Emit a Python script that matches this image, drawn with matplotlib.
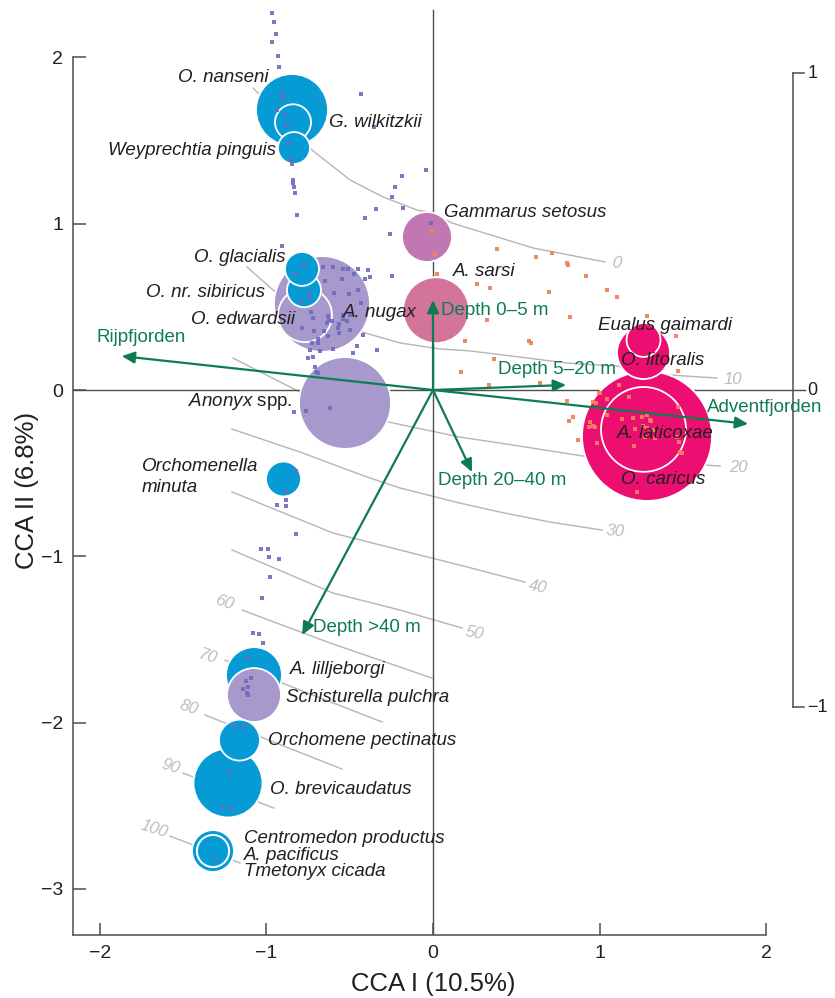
import numpy as np
import matplotlib
matplotlib.use("Agg")
import matplotlib.pyplot as plt
from matplotlib.patches import Circle

plt.rcParams['font.family'] = ['Liberation Sans', 'DejaVu Sans']
plt.rcParams['mathtext.fontset'] = 'custom'
plt.rcParams['mathtext.rm'] = 'Liberation Sans'
plt.rcParams['mathtext.it'] = 'Liberation Sans:italic'

# species scores on CCA I / CCA II, bubble radius (abundance) and cluster
species_names = ["O. nanseni", "G. wilkitzkii", "Weyprechtia pinguis", "Gammarus setosus",
                 "A. sarsi", "A. nugax", "O. edwardsii", "O. nr. sibiricus", "O. glacialis",
                 r"$\mathit{Anonyx}$ spp.", "Orchomenella\nminuta", "A. lilljeborgi",
                 "Schisturella pulchra", "O. brevicaudatus", "Orchomene pectinatus",
                 "Centromedon productus", "A. pacificus", "Tmetonyx cicada",
                 "A. laticoxae", "O. caricus", "O. litoralis", "Eualus gaimardi"]
species_x = [-0.846, -0.840, -0.834, -0.036, 0.018, -0.666, -0.768, -0.774, -0.786,
             -0.528, -0.897, -1.074, -1.074, -1.230, -1.161, -1.320, -1.320, -1.320,
             1.284, 1.263, 1.263, 1.263]
species_y = [1.684, 1.610, 1.455, 0.920, 0.480, 0.517, 0.450, 0.600, 0.728,
             -0.078, -0.535, -1.714, -1.834, -2.363, -2.105, -2.772, -2.772, -2.772,
             -0.277, -0.237, 0.225, 0.301]
species_r = [0.216, 0.108, 0.096, 0.150, 0.198, 0.288, 0.162, 0.102, 0.102,
             0.276, 0.105, 0.168, 0.162, 0.207, 0.123, 0.126, 0.096, 0.096,
             0.390, 0.255, 0.159, 0.102]
species_group = [0, 0, 0, 2, 3, 1, 1, 0, 0, 1, 0, 0, 1, 0, 0, 0, 0, 0, 4, 4, 4, 4]

# sample scores, Rijpfjorden (blue) and Adventfjorden (orange)
rijp_x = [-0.966, -0.954, -0.942, -0.966, -0.930, -0.924, -0.906, -0.900, -0.936, -0.888,
          -0.876, -0.864, -0.852, -0.846, -0.840, -0.840, -0.834, -0.828, -0.816, -0.432,
          -0.354, -0.186, -0.042, -0.228, -0.246, -0.180, -0.342, -0.408, -0.258, -0.012,
          -0.906, -0.774, -0.828, -0.660, -0.600, -0.540, -0.510, -0.474, -0.450, -0.390,
          -0.378, -0.408, -0.246, -0.648, -0.546, -0.744, -0.738, -0.792, -0.594, -0.504,
          -0.450, -0.432, -0.732, -0.720, -0.630, -0.624, -0.606, -0.540, -0.498, -0.516,
          -0.540, -0.636, -0.564, -0.570, -0.498, -0.786, -0.714, -0.654, -0.564, -0.630,
          -0.690, -0.420, -0.726, -0.690, -0.456, -0.336, -0.600, -0.678, -0.738, -0.480,
          -0.720, -0.750, -0.708, -0.702, -0.690, -0.834, -0.762, -0.618, -0.822, -0.882,
          -0.882, -0.936, -0.882, -0.822, -1.032, -0.990, -0.984, -0.924, -0.978, -1.026,
          -1.080, -1.044, -1.020, -1.110, -1.092, -1.122, -1.110, -1.140, -1.116, -1.110,
          -1.188, -1.134, -1.224, -1.260, -1.212, -1.308]
rijp_y = [2.267, 2.213, 2.141, 2.093, 2.008, 1.942, 1.786, 1.750, 1.684, 1.654,
          1.587, 1.485, 1.383, 1.359, 1.263, 1.245, 1.221, 1.185, 1.052, 1.780,
          1.581, 1.287, 1.323, 1.221, 1.161, 1.094, 1.088, 1.034, 0.938, 1.004,
          0.866, 0.746, 0.698, 0.740, 0.740, 0.728, 0.728, 0.698, 0.728, 0.722,
          0.680, 0.667, 0.686, 0.655, 0.667, 0.583, 0.553, 0.535, 0.583, 0.577,
          0.601, 0.523, 0.469, 0.433, 0.445, 0.421, 0.415, 0.451, 0.451, 0.415,
          0.427, 0.403, 0.397, 0.373, 0.361, 0.373, 0.355, 0.355, 0.343, 0.325,
          0.307, 0.331, 0.283, 0.283, 0.265, 0.241, 0.247, 0.235, 0.241, 0.222,
          0.198, 0.192, 0.138, 0.108, 0.102, -0.132, -0.126, -0.108, -0.487, -0.613,
          -0.661, -0.692, -0.698, -0.866, -0.956, -0.956, -1.004, -1.016, -1.124, -1.251,
          -1.461, -1.467, -1.521, -1.612, -1.732, -1.750, -1.786, -1.798, -1.822, -1.834,
          -2.026, -2.026, -2.297, -2.513, -2.513, -2.820]
adv_x = [-0.006, 0.012, 0.024, 0.384, 0.618, 0.714, 0.804, 0.810, 0.918, 1.044,
         1.104, 0.264, 0.342, 0.696, 0.324, 0.822, 0.192, 0.576, 0.588, 0.366,
         0.168, 0.336, 0.642, 0.804, 0.840, 0.816, 1.284, 1.458, 1.470, 1.224,
         0.870, 1.116, 1.176, 0.996, 1.044, 0.960, 0.978, 1.044, 0.942, 0.960,
         0.936, 0.972, 0.984, 1.134, 1.200, 1.284, 1.308, 1.260, 1.284, 1.320,
         1.332, 1.206, 1.470, 1.464, 1.476, 1.482, 1.494, 1.002, 1.254, 1.302,
         1.212, 1.272]
adv_y = [0.956, 0.818, 0.698, 0.848, 0.800, 0.824, 0.764, 0.752, 0.686, 0.601,
         0.559, 0.637, 0.613, 0.589, 0.421, 0.439, 0.295, 0.295, 0.283, 0.186,
         0.108, 0.030, 0.042, -0.066, -0.162, -0.186, 0.445, 0.325, 0.114, -0.613,
         -0.301, 0.030, -0.042, -0.018, -0.054, -0.072, -0.078, -0.150, -0.192, -0.216,
         -0.222, -0.222, -0.319, -0.174, -0.168, -0.150, -0.186, -0.216, -0.228, -0.241,
         -0.289, -0.337, -0.102, -0.283, -0.313, -0.373, -0.379, -0.018, -0.162, -0.180,
         -0.235, -0.283]

# environmental biplot scores (right-hand axis units)
env_names = ["Rijpfjorden", "Depth 0\u20135 m", "Depth 5\u201320 m", "Adventfjorden",
             "Depth 20\u201340 m", "Depth >40 m"]
env_x = [-0.980, 0.000, 0.419, 0.992, 0.123, -0.412]
env_y = [0.107, 0.284, 0.016, -0.107, -0.259, -0.773]

# fitted depth surface (m), one isoline per level
depth_levels = [0, 10, 20, 30, 40, 50, 60, 70, 80, 90, 100]
iso_x = [[-1.080, -1.026, -0.726, -0.498, -0.300, -0.096, -0.018, 0.114, 0.600, 1.032],
         [-1.116, -0.960, -0.408, -0.198, 0.042, 0.222, 0.522, 0.804, 1.104, 1.422, 1.704],
         [-1.200, -0.798, -0.270, 0.162, 0.402, 0.900, 1.632, 1.722],
         [-1.206, -0.798, -0.396, -0.198, 0.162, 0.402, 0.702, 1.014],
         [-1.206, -0.600, -0.198, 0.204, 0.552],
         [-1.206, -0.600, -0.198, 0.174],
         [-1.146, -0.618, -0.006],
         [-1.248, -0.798, -0.306],
         [-1.368, -0.546],
         [-1.500, -0.954],
         [-1.578, -1.158]]
iso_y = [[1.816, 1.762, 1.443, 1.263, 1.161, 1.082, 1.070, 1.004, 0.854, 0.770],
         [0.740, 0.601, 0.343, 0.283, 0.247, 0.235, 0.198, 0.162, 0.144, 0.090, 0.072],
         [0.192, -0.012, -0.192, -0.283, -0.319, -0.397, -0.451, -0.457],
         [-0.235, -0.373, -0.523, -0.589, -0.680, -0.734, -0.794, -0.842],
         [-0.613, -0.860, -0.962, -1.064, -1.155],
         [-0.962, -1.221, -1.323, -1.431],
         [-1.323, -1.521, -1.732],
         [-1.624, -1.804, -1.996],
         [-1.954, -2.279],
         [-2.303, -2.514],
         [-2.682, -2.844]]
biplot_ticks = [-1, 0, 1]

# layout
BIPLOT_SCALE = 1.906
iso_label_pos = [(1.098, 0.764, -8), (1.800, 0.066, 0), (1.830, -0.463, 0),
                 (1.092, -0.848, -5), (0.630, -1.185, -10), (0.246, -1.461, -10),
                 (-1.254, -1.281, -18), (-1.356, -1.600, -18), (-1.464, -1.912, -18),
                 (-1.572, -2.267, -18), (-1.674, -2.640, -18)]
species_label_pos = [(-0.984, 1.882, 'right'), (-0.624, 1.606, 'left'), (-0.942, 1.443, 'right'),
                     (0.066, 1.070, 'left'), (0.120, 0.710, 'left'), (-0.540, 0.469, 'left'),
                     (-0.828, 0.421, 'right'), (-1.008, 0.589, 'right'), (-0.888, 0.794, 'right'),
                     (-0.846, -0.072, 'right'), (-1.746, -0.523, 'left'), (-0.858, -1.678, 'left'),
                     (-0.882, -1.846, 'left'), (-0.978, -2.399, 'left'), (-0.990, -2.105, 'left'),
                     (-1.134, -2.694, 'left'), (-1.134, -2.796, 'left'), (-1.134, -2.898, 'left'),
                     (1.104, -0.259, 'left'), (1.128, -0.541, 'left'), (1.128, 0.180, 'left'),
                     (0.990, 0.385, 'left')]
env_label_pos = [(-2.016, 0.313), (0.048, 0.481), (0.390, 0.126), (1.644, -0.105),
                 (0.030, -0.547), (-0.720, -1.425)]

group_colors = ['#079BD5', '#A799CB', '#C177B2', '#D3749A', '#EC0E70']
GREEN = '#0D7C4F'
INK = '#231F20'
AXIS = '#4D4D4D'

fig = plt.figure(figsize=(8.35, 9.98), dpi=100)
ax = fig.add_axes([0.0874, 0.0631, 0.8946, 0.9319])
ax.set_xlim(-2.16, 2.3215)
ax.set_ylim(-3.277, 2.315)

# depth isolines
for lev, xs, ys, (lx, ly, rot) in zip(depth_levels, iso_x, iso_y, iso_label_pos):
    ax.plot(xs, ys, color='#B5B5B5', lw=1.0, zorder=1)
    ax.text(lx, ly, str(lev), color='#BDBDBD', fontsize=12, style='italic',
            ha='center', va='center', rotation=rot, zorder=1)

# zero lines
ax.plot([-2.16, 2.23], [0, 0], color=AXIS, lw=1.0, zorder=1.5)
ax.plot([0, 0], [-3.277, 2.285], color=AXIS, lw=1.0, zorder=1.5)

# species bubbles
for x, y, r, g in zip(species_x, species_y, species_r, species_group):
    ax.add_patch(Circle((x, y), r, facecolor=group_colors[g], edgecolor='white',
                        lw=1.3, zorder=2))

# samples
ax.scatter(rijp_x, rijp_y, s=10, marker='s', color='#6C6CBE', lw=0, alpha=0.9, zorder=3)
ax.scatter(adv_x, adv_y, s=10, marker='s', color='#F3825F', lw=0, alpha=0.95, zorder=3)

# environmental arrows
for name, ex, ey, (lx, ly) in zip(env_names, env_x, env_y, env_label_pos):
    ax.annotate('', xy=(ex * BIPLOT_SCALE, ey * BIPLOT_SCALE), xytext=(0, 0),
                arrowprops=dict(arrowstyle='-|>,head_length=0.55,head_width=0.25',
                                color=GREEN, lw=1.6, mutation_scale=14,
                                shrinkA=0, shrinkB=0), zorder=4)
    ax.text(lx, ly, name, color=GREEN, fontsize=13.5, ha='left', va='center', zorder=5)

# species labels
for name, (lx, ly, ha) in zip(species_names, species_label_pos):
    style = 'normal' if '$' in name else 'italic'
    ax.text(lx, ly, name, color=INK, fontsize=13.5, style=style, ha=ha, va='center',
            linespacing=1.3, zorder=5)

# biplot axis on the right
bx = 2.16
ax.plot([bx, bx], [-BIPLOT_SCALE, BIPLOT_SCALE], color=AXIS, lw=1.1, zorder=1)
for t in biplot_ticks:
    if t != 0:
        ax.plot([bx, bx + 0.065], [t * BIPLOT_SCALE] * 2, color=AXIS, lw=1.1, zorder=1)
    ax.text(bx + 0.085, t * BIPLOT_SCALE, str(t).replace('-', '\u2212'), color=INK,
            fontsize=13, ha='left', va='center')

# main axes
for s in ['top', 'right']:
    ax.spines[s].set_visible(False)
for s in ['left', 'bottom']:
    ax.spines[s].set_color(AXIS)
    ax.spines[s].set_linewidth(1.1)
ax.spines['left'].set_bounds(-3.277, 2)
ax.spines['bottom'].set_bounds(-2.16, 2)
ax.set_xticks([-2, -1, 0, 1, 2])
ax.set_yticks([-3, -2, -1, 0, 1, 2])
ax.tick_params(direction='in', length=9, width=1.1, color=AXIS, labelsize=14,
               labelcolor=INK, pad=7)

fig.text(433 / 835, 1 - 984 / 998, 'CCA I (10.5%)', fontsize=18.5,
         color=INK, ha='center', va='center')
fig.text(27 / 835, 1 - 490 / 998, 'CCA II (6.8%)', fontsize=18.5,
         color=INK, ha='center', va='center', rotation=90)

fig.savefig('out.png', dpi=100)
